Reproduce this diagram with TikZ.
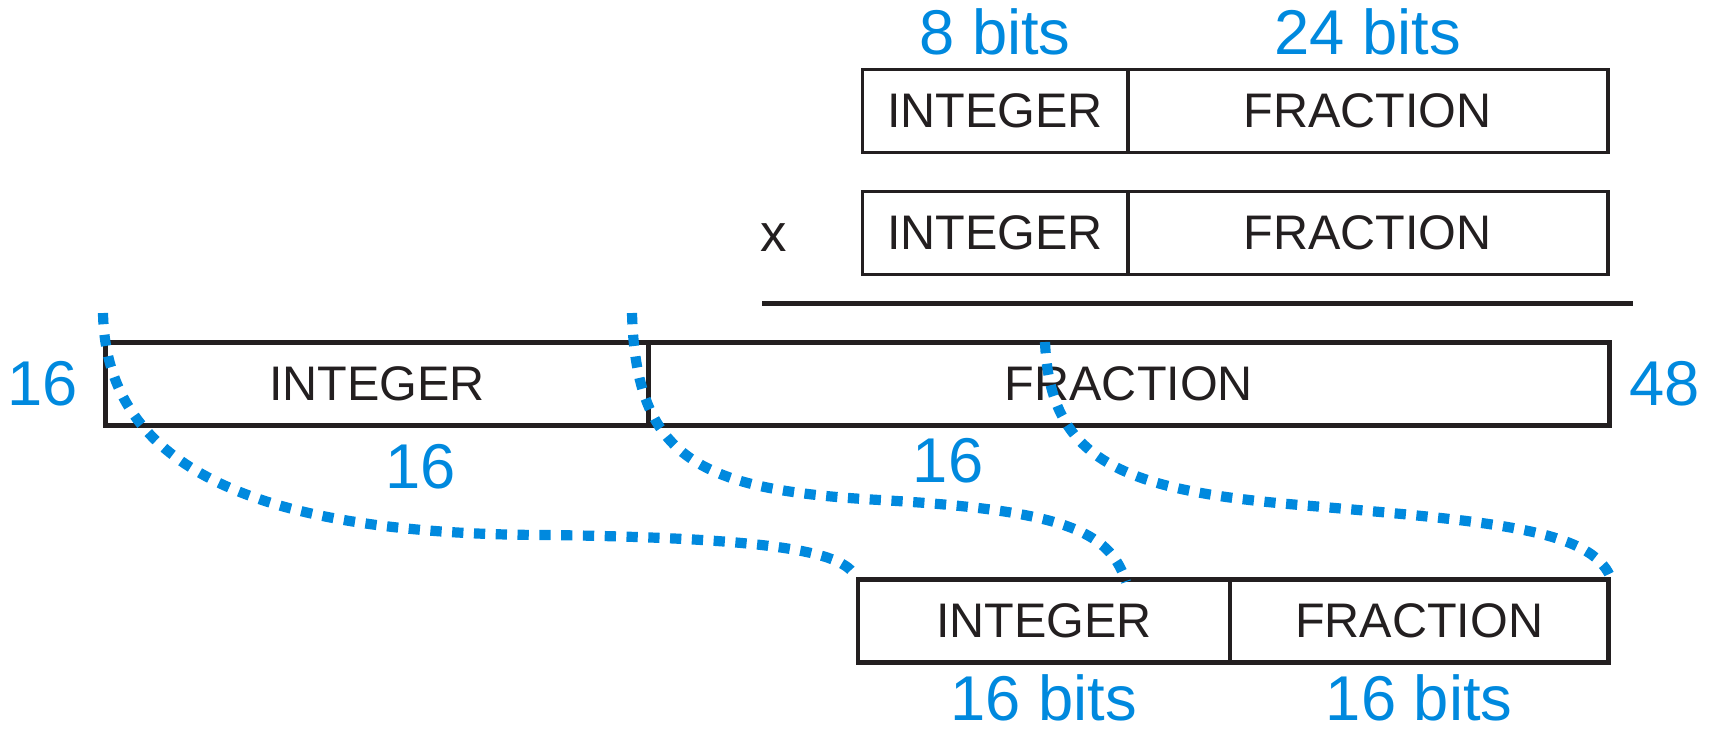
\documentclass[tikz,border=0pt]{standalone}
\usepackage{fontspec}
\setmainfont{Liberation Sans}
\definecolor{bitblue}{RGB}{0,137,222}
\definecolor{ink}{RGB}{35,31,32}
\tikzset{
	fieldbox/.style={shape=rectangle,draw=ink,line width=1.1pt,minimum height=0.83cm,inner sep=0pt,text=ink,font=\fontsize{13.8}{16}\selectfont},
	bitcount/.style={text=bitblue,inner sep=0pt,font=\fontsize{18}{21}\selectfont},
	cutline/.style={draw=bitblue,line width=2.9pt,dash pattern=on 3.2pt off 3pt},
}

\begin{document}
\begin{tikzpicture}[x=0.01cm,y=-0.01cm]
		\useasboundingbox (0,0) rectangle (1712,729);

		\node[fieldbox,minimum width=2.65cm,label={[bitcount,label distance=1.2mm]above:8 bits}] (aint) at (995,111) {INTEGER};
		\node[fieldbox,minimum width=4.80cm,label={[bitcount,label distance=1.2mm]above:24 bits}] (afrac) [right of=aint,node distance=3.725cm] {FRACTION};
		\node[fieldbox,minimum width=2.65cm] (bint) at (995,233) {INTEGER};
		\node[fieldbox,minimum width=4.80cm] (bfrac) [right of=bint,node distance=3.725cm] {FRACTION};
		\node[text=ink,font=\fontsize{15}{18}\selectfont] (times) at (774,238) {x};

		\coordinate (rulel) at (762,303.5);
		\coordinate (ruler) at (1633,303.5);
		\draw (rulel) [draw=ink,line width=1.4pt] -- (ruler);

		\node[fieldbox,line width=1.4pt,minimum width=5.43cm,label={[bitcount,label distance=2.4mm]left:16}] (pint) at (377,384) {INTEGER};
		\node[fieldbox,line width=1.4pt,minimum width=9.60cm,label={[bitcount,label distance=1.7mm]right:48}] (pfrac) [right of=pint,node distance=7.515cm] {FRACTION};
		\node[bitcount] (pintcut) at (421,467) {16};
		\node[bitcount] (pfraccut) at (948,461) {16};

		\node[fieldbox,line width=1.3pt,minimum width=3.72cm,label={[bitcount,label distance=0.9mm]below:16 bits}] (rint) at (1044,621) {INTEGER};
		\node[fieldbox,line width=1.3pt,minimum width=3.78cm,label={[bitcount,label distance=0.9mm]below:16 bits}] (rfrac) [right of=rint,node distance=3.75cm] {FRACTION};

		\coordinate (cuta) at (103,313);
		\coordinate (cutb) at (632,313);
		\coordinate (cutc) at (1045,342);
		\coordinate (endb) at (1126,582);

		\draw[cutline] (cuta) .. controls (106,465) and (250,535) .. (550,535) .. controls (760,538) and (845,550) .. (rint.north west);
		\draw[cutline] (cutb) .. controls (636,460) and (700,490) .. (880,500) .. controls (1060,510) and (1110,530) .. (endb);
		\draw[cutline] (cutc) .. controls (1050,460) and (1120,490) .. (1300,505) .. controls (1500,522) and (1590,530) .. (rfrac.north east);
		\end{tikzpicture}
\end{document}
